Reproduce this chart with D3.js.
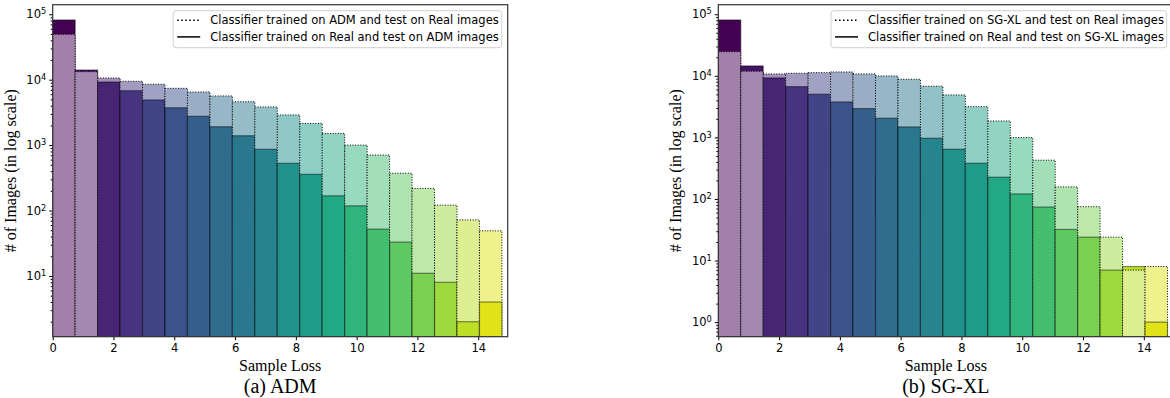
<!DOCTYPE html>
<html>
<head>
<meta charset="utf-8">
<script src="https://cdn.jsdelivr.net/npm/d3@7"></script>
<style>
  body { margin: 0; background: #fff; }
  svg { display: block; }
</style>
</head>
<body>
<div id="chart"></div>
<script>
// bin edges of the loss histogram (20 bins)
var binEdges = [0, 0.739, 1.478, 2.217, 2.956, 3.695, 4.434, 5.173, 5.912, 6.651, 7.39,
  8.129, 8.868, 9.607, 10.346, 11.085, 11.824, 12.563, 13.302, 14.041, 14.78];
var xTicks = [0, 2, 4, 6, 8, 10, 12, 14];

// (a) ADM
var admOnReal = [49400, 13250, 10620, 9450, 8510, 7390, 6490, 5640, 4610, 3830,
  2890, 2150, 1510, 1000, 706, 371, 218, 121, 72, 49];
var realOnAdm = [81800, 14070, 9220, 6790, 4900, 3730, 2760, 1910, 1390, 863,
  527, 358, 168, 118, 52, 33, 11, 8, 2, 4];

// (b) SG-XL
var sgxlOnReal = [24700, 11880, 10740, 11020, 11270, 11570, 10740, 9960, 8810, 6780,
  4900, 3160, 1850, 993, 427, 157, 75, 24, 7, 8];
var realOnSgxl = [80800, 14490, 9250, 6680, 5030, 3770, 2940, 2050, 1480, 970,
  643, 381, 226, 121, 74, 32, 24, 7, 8, 1];

var W = 1170, H = 398;
var sans = 'DejaVu Sans, sans-serif';
var serif = 'Liberation Serif, Times New Roman, serif';

var svg = d3.select('#chart').append('svg')
  .attr('width', W)
  .attr('height', H)
  .attr('font-family', sans);

function lighten(c) {
  var col = d3.rgb(c);
  return d3.rgb((col.r + 255) / 2, (col.g + 255) / 2, (col.b + 255) / 2).formatHex();
}

function drawPanel(p) {
  var w = p.x1 - p.x0, h = p.y1 - p.y0;
  var g = svg.append('g').attr('transform', 'translate(' + p.x0 + ',' + p.y0 + ')');

  var x = d3.scaleLinear().domain(p.xDomain).range([0, w]);
  var y = d3.scaleLog().domain(p.yDomain).range([h, 0]);

  g.append('clipPath').attr('id', p.id + '-clip')
    .append('rect').attr('width', w).attr('height', h);

  var bars = g.append('g').attr('clip-path', 'url(#' + p.id + '-clip)');

  // one group per bin, the taller bar first so the shorter one sits on top
  for (var i = 0; i < p.dotted.length; i++) {
    var col = d3.interpolateViridis(i / 20);
    var items = [
      { v: p.dotted[i], fill: lighten(col), stroke: '#000', dash: '1,1.6', sw: 1 },
      { v: p.solid[i], fill: col, stroke: 'rgba(0,0,0,0.45)', dash: null, sw: 1.2 }
    ];
    items.sort(function(a, b) { return b.v - a.v; });
    items.forEach(function(d) {
      bars.append('rect')
        .attr('x', x(binEdges[i]))
        .attr('width', x(binEdges[i + 1]) - x(binEdges[i]))
        .attr('y', y(d.v))
        .attr('height', h - y(d.v))
        .attr('fill', d.fill)
        .attr('stroke', d.stroke)
        .attr('stroke-width', d.sw)
        .attr('stroke-dasharray', d.dash);
    });
  }

  // X axis
  var xa = g.append('g')
    .attr('transform', 'translate(0,' + h + ')')
    .call(d3.axisBottom(x).tickValues(xTicks).tickSize(3.5).tickPadding(3.5));
  xa.attr('font-family', sans);
  xa.select('.domain').remove();
  xa.selectAll('text').attr('font-size', '11.5px').attr('fill', '#000');

  // Y axis: decades labelled, minor ticks in between
  var lo = Math.floor(Math.log10(p.yDomain[0])), hi = Math.ceil(Math.log10(p.yDomain[1]));
  var majors = [], minors = [];
  for (var k = lo; k <= hi; k++) {
    var base = Math.pow(10, k);
    if (base >= p.yDomain[0] && base <= p.yDomain[1]) majors.push(base);
    for (var m = 2; m < 10; m++) {
      var v = m * base;
      if (v >= p.yDomain[0] && v <= p.yDomain[1]) minors.push(v);
    }
  }
  var ym = g.append('g').call(d3.axisLeft(y).tickValues(minors).tickSize(2).tickFormat(''));
  ym.select('.domain').remove();
  var ya = g.append('g').call(d3.axisLeft(y).tickValues(majors).tickSize(3.5).tickPadding(3).tickFormat(''));
  ya.attr('font-family', sans);
  ya.select('.domain').remove();
  ya.selectAll('.tick text').each(function(d) {
    var t = d3.select(this).attr('font-size', '11.5px').attr('fill', '#000');
    t.append('tspan').text('10');
    t.append('tspan').attr('dy', '-0.5em').attr('font-size', '8.2px')
      .text(Math.round(Math.log10(d)));
  });

  // spines
  g.append('rect')
    .attr('width', w).attr('height', h)
    .attr('fill', 'none')
    .attr('stroke', '#333')
    .attr('stroke-width', 1.2);

  // legend
  var lg = g.append('g').attr('transform', 'translate(' + p.legendX + ',6)');
  lg.append('rect')
    .attr('width', p.legendW).attr('height', 37)
    .attr('rx', 3)
    .attr('fill', 'rgba(255,255,255,0.8)')
    .attr('stroke', '#d0d0d0');
  p.legend.forEach(function(txt, j) {
    var ly = 9.5 + j * 16.7;
    lg.append('line')
      .attr('x1', 4).attr('x2', 27).attr('y1', ly).attr('y2', ly)
      .attr('stroke', '#000').attr('stroke-width', 1.5)
      .attr('stroke-dasharray', j === 0 ? '1.5,2.5' : null);
    lg.append('text')
      .attr('x', 37).attr('y', ly).attr('dy', '0.36em')
      .attr('font-size', '11.5px')
      .text(txt);
  });

  // labels
  g.append('text')
    .attr('transform', 'translate(' + (-37) + ',' + (h / 2) + ') rotate(-90)')
    .attr('text-anchor', 'middle')
    .attr('font-family', serif)
    .attr('font-size', '16px')
    .text('# of Images (in log scale)');
  g.append('text')
    .attr('x', w / 2).attr('y', h + 34.5)
    .attr('text-anchor', 'middle')
    .attr('font-family', serif)
    .attr('font-size', '16px')
    .text('Sample Loss');
  g.append('text')
    .attr('x', w / 2).attr('y', h + 56.5)
    .attr('text-anchor', 'middle')
    .attr('font-family', serif)
    .attr('font-size', '20px')
    .text(p.caption);
}

drawPanel({
  id: 'adm', x0: 52.7, x1: 507.7, y0: 4.7, y1: 336.7,
  xDomain: [0, 14.97], yDomain: [1.18, 1.4e5],
  dotted: admOnReal, solid: realOnAdm,
  legendX: 120.5, legendW: 328.5,
  legend: ['Classifier trained on ADM and test on Real images',
           'Classifier trained on Real and test on ADM images'],
  caption: '(a) ADM'
});

drawPanel({
  id: 'sgxl', x0: 718.3, x1: 1173.3, y0: 4.7, y1: 336.7,
  xDomain: [0, 14.97], yDomain: [0.58, 1.43e5],
  dotted: sgxlOnReal, solid: realOnSgxl,
  legendX: 112.7, legendW: 335.7,
  legend: ['Classifier trained on SG-XL and test on Real images',
           'Classifier trained on Real and test on SG-XL images'],
  caption: '(b) SG-XL'
});
</script>
</body>
</html>
